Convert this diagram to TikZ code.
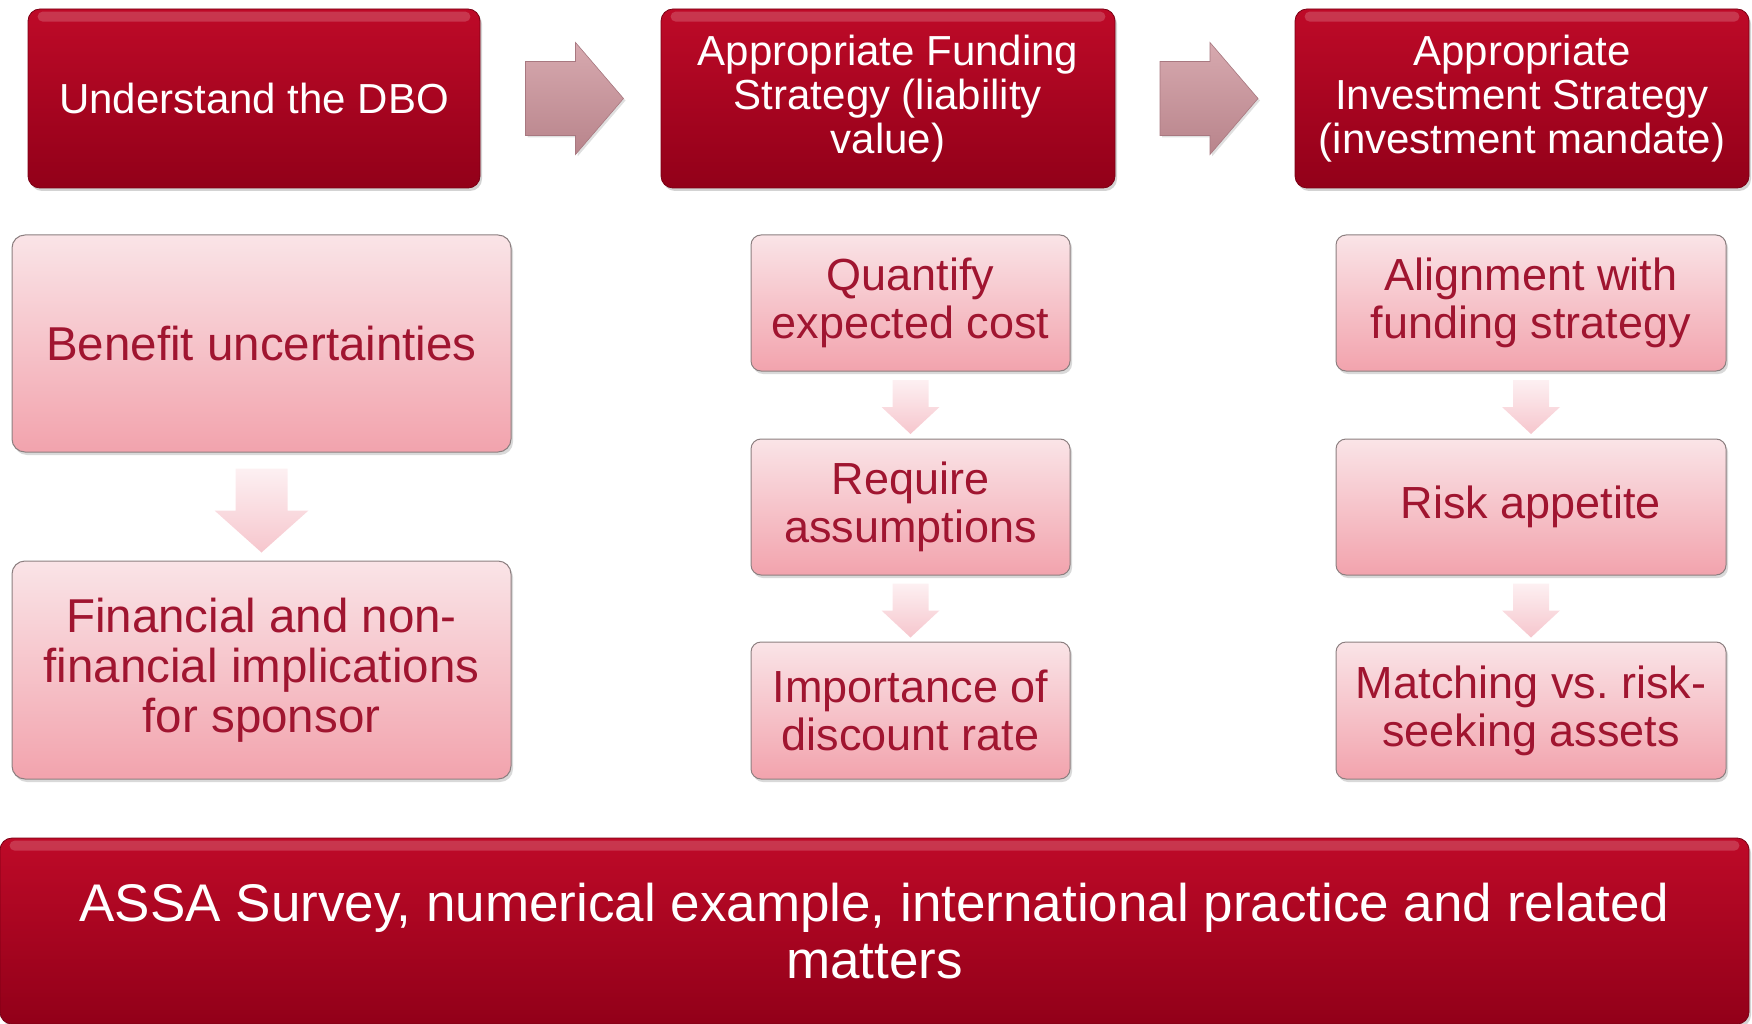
\documentclass[tikz,border=0pt]{standalone}
\usepackage{fontspec}
\setmainfont{Liberation Sans}
\usetikzlibrary{shadows,calc}
\frenchspacing
\definecolor{dkA}{HTML}{BE0A28}
\definecolor{dkB}{HTML}{920019}
\definecolor{dkE}{HTML}{7A0014}
\definecolor{pkA}{HTML}{FAE4E7}
\definecolor{pkB}{HTML}{F2A3AD}
\definecolor{pkE}{HTML}{8C7F80}
\definecolor{pktxt}{HTML}{A01530}
\definecolor{arA}{HTML}{D7A9AF}
\definecolor{arB}{HTML}{B8848B}
\definecolor{arE}{HTML}{A87880}
\definecolor{daA}{HTML}{FDF0F2}
\definecolor{daB}{HTML}{F6C6CD}
\begin{document}
\begin{tikzpicture}[x=1pt,y=-1pt,
  darkbox/.style={rounded corners=12pt, top color=dkA, bottom color=dkB, draw=dkE, line width=0.8pt,
    text=white, align=center, inner sep=0pt, font=\fontsize{42}{44}\selectfont,
    drop shadow={shadow xshift=2pt, shadow yshift=-3pt, opacity=0.35}},
  pinkbox/.style={rounded corners=13pt, top color=pkA, bottom color=pkB, draw=pkE, line width=1pt,
    text=pktxt, align=center, inner sep=0pt, font=\fontsize{45}{48}\selectfont,
    drop shadow={shadow xshift=2pt, shadow yshift=-3pt, opacity=0.3}},
  rarrow/.style={top color=arA, bottom color=arB, draw=arE, line width=0.6pt,
    drop shadow={shadow xshift=2pt, shadow yshift=-2pt, opacity=0.25}},
  darrow/.style={top color=daA, bottom color=daB, draw=none},
  gloss/.style={fill=white, opacity=0.18, rounded corners=5pt}
]
\useasboundingbox (0,0) rectangle (1752,1024);

% top row
\node[darkbox, minimum width=452pt, minimum height=179pt] (t1) at (254,98.5) {Understand the DBO};
\node[darkbox, minimum width=454pt, minimum height=179pt] (t2) at (888,98.5) {Appropriate Funding\\Strategy (liability\\value)};
\node[darkbox, minimum width=454pt, minimum height=179pt] (t3) at (1522,98.5) {Appropriate\\Investment Strategy\\(investment mandate)};

% bottom bar
\node[darkbox, minimum width=1749pt, minimum height=186pt, font=\fontsize{53}{57}\selectfont] (bb) at (874.5,931) {ASSA Survey, numerical example, international practice and related\\matters};

% gloss highlights
\foreach \n in {t1,t2,t3,bb}{
  \fill[gloss] ($(\n.north west)+(10,3)$) rectangle ($(\n.north east)+(-10,13)$);
}

% right arrows between top boxes
\coordinate (m1) at ($(t1.east)!0.5!(t2.west)+(4,0)$);
\coordinate (m2) at ($(t2.east)!0.5!(t3.west)+(4,0)$);
\foreach \m in {m1,m2}{
  \path[rarrow] ($(\m)+(-49,-37)$) -- ($(\m)+(1,-37)$) -- ($(\m)+(1,-56)$) -- ($(\m)+(49,0)$)
     -- ($(\m)+(1,56)$) -- ($(\m)+(1,37)$) -- ($(\m)+(-49,37)$) -- cycle;
}

% left column
\node[pinkbox, minimum width=499pt, minimum height=217pt, font=\fontsize{47.5}{50}\selectfont] (l1) at (261.5,343.5) {Benefit uncertainties};
\node[pinkbox, minimum width=499pt, minimum height=218pt, font=\fontsize{47.5}{50}\selectfont] (l2) at (261.5,670) {Financial and non-\\financial implications\\for sponsor};

% middle column
\node[pinkbox, rounded corners=10pt, minimum width=319pt, minimum height=136pt] (c1) at (910.5,303) {Quantify\\expected cost};
\node[pinkbox, rounded corners=10pt, minimum width=319pt, minimum height=136pt] (c2) at (910.5,507) {Require\\assumptions};
\node[pinkbox, rounded corners=10pt, minimum width=319pt, minimum height=137pt] (c3) at (910.5,710.5) {Importance of\\discount rate};

% right column
\node[pinkbox, rounded corners=10pt, minimum width=390pt, minimum height=136pt] (r1) at (1531,303) {Alignment with\\funding strategy};
\node[pinkbox, rounded corners=10pt, minimum width=390pt, minimum height=136pt] (r2) at (1531,507) {Risk appetite};
\node[pinkbox, rounded corners=10pt, minimum width=390pt, minimum height=137pt] (r3) at (1531,710.5) {Matching vs. risk-\\seeking assets};

% down arrows
\coordinate (dl) at ($(l1.south)!0.5!(l2.north)+(0,4)$);
\path[darrow] ($(dl)+(-26,-42)$) -- ($(dl)+(26,-42)$) -- ($(dl)+(26,0)$) -- ($(dl)+(47,0)$)
   -- ($(dl)+(0,42)$) -- ($(dl)+(-47,0)$) -- ($(dl)+(-26,0)$) -- cycle;

\coordinate (d1) at ($(c1.south)!0.5!(c2.north)+(0,2)$);
\coordinate (d2) at ($(c2.south)!0.5!(c3.north)+(0,2)$);
\coordinate (d3) at ($(r1.south)!0.5!(r2.north)+(0,2)$);
\coordinate (d4) at ($(r2.south)!0.5!(r3.north)+(0,2)$);
\foreach \d in {d1,d2,d3,d4}{
  \path[darrow] ($(\d)+(-18,-27)$) -- ($(\d)+(18,-27)$) -- ($(\d)+(18,0)$) -- ($(\d)+(29,0)$)
     -- ($(\d)+(0,27)$) -- ($(\d)+(-29,0)$) -- ($(\d)+(-18,0)$) -- cycle;
}
\end{tikzpicture}
\end{document}
